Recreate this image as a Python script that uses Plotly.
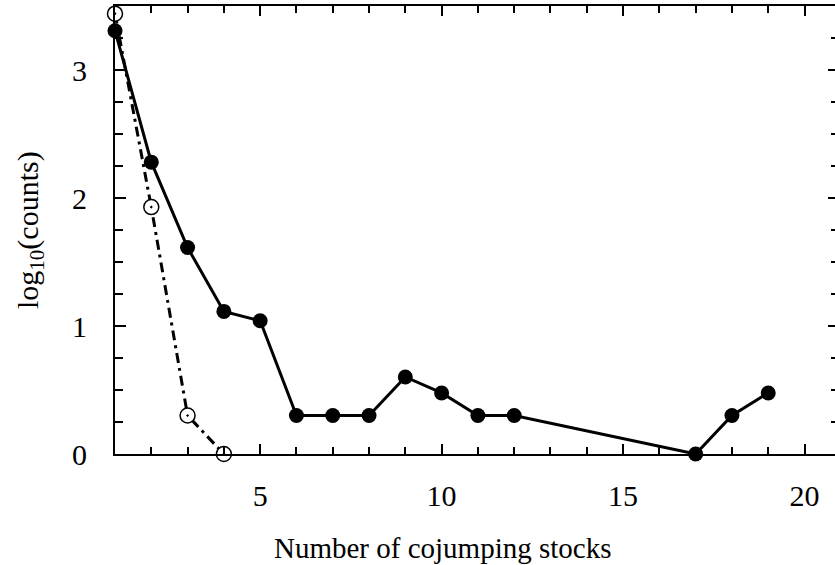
import plotly.graph_objects as go

# Number of stocks jumping together, and log10 of how often each occurred
n_all = [1, 2, 3, 4, 5, 6, 7, 8, 9, 10, 11, 12, 17, 18, 19]
log_counts_all = [3.307, 2.28, 1.613, 1.114, 1.041, 0.301, 0.301, 0.301,
                  0.602, 0.477, 0.301, 0.301, 0.0, 0.301, 0.477]

n_ref = [1, 2, 3, 4]
log_counts_ref = [3.44, 1.929, 0.301, 0.0]

x_ticks = [5, 10, 15, 20]
y_ticks = [0, 1, 2, 3]

FONT = "Liberation Serif"
X_RANGE = [1, 20.84]
Y_RANGE = [0, 3.5]

fig = go.Figure()

fig.add_trace(go.Scatter(
    x=n_ref, y=log_counts_ref, mode="lines+markers",
    line=dict(color="black", width=3, dash="10px,5px,3px,5px"),
    marker=dict(symbol="circle-dot", size=15, color="white",
                line=dict(color="black", width=1.5)),
    cliponaxis=False, showlegend=False,
))

fig.add_trace(go.Scatter(
    x=n_all, y=log_counts_all, mode="lines+markers",
    line=dict(color="black", width=3),
    marker=dict(symbol="circle", size=15, color="black"),
    cliponaxis=False, showlegend=False,
))

# empty trace so the right-hand tick axis is drawn
fig.add_trace(go.Scatter(x=[], y=[], yaxis="y2", showlegend=False,
                         hoverinfo="skip"))

fig.update_layout(
    width=835, height=565,
    margin=dict(l=115, r=0, t=6, b=111),
    paper_bgcolor="white", plot_bgcolor="white",
    font=dict(family=FONT, size=29, color="black"),
    xaxis=dict(
        range=X_RANGE, tickmode="array", tickvals=x_ticks,
        ticktext=[str(v) for v in x_ticks],
        ticks="inside", ticklen=10, tickwidth=1.5, tickcolor="black",
        minor=dict(dtick=1, tick0=0, ticks="inside", ticklen=7,
                   tickwidth=1.5, tickcolor="black", showgrid=False),
        showline=True, linewidth=2, linecolor="black", mirror="ticks",
        showgrid=False, zeroline=False, ticklabelstandoff=14,
        tickfont=dict(family=FONT, size=30),
    ),
    yaxis=dict(
        range=Y_RANGE, tickmode="array", tickvals=y_ticks,
        ticktext=[str(v) for v in y_ticks],
        ticks="inside", ticklen=11, tickwidth=1.5, tickcolor="black",
        minor=dict(dtick=0.25, tick0=0, ticks="inside", ticklen=8,
                   tickwidth=1.5, tickcolor="black", showgrid=False),
        showline=True, linewidth=2, linecolor="black",
        showgrid=False, zeroline=False, ticklabelstandoff=20,
        tickfont=dict(family=FONT, size=30),
    ),
    yaxis2=dict(
        range=Y_RANGE, overlaying="y", side="right", anchor="free",
        position=1, tickmode="array", tickvals=y_ticks,
        ticks="inside", ticklen=7, tickwidth=1.5, tickcolor="black",
        minor=dict(dtick=0.25, tick0=0, ticks="inside", ticklen=4,
                   tickwidth=1.5, tickcolor="black", showgrid=False),
        showline=False, showgrid=False, zeroline=False,
        showticklabels=False,
    ),
    annotations=[
        dict(text="Number of cojumping stocks", x=10.02, y=0,
             xref="x", yref="paper", yanchor="middle", xanchor="center",
             showarrow=False, font=dict(family=FONT, size=29)),
        dict(text="log<sub>10</sub>(counts)", x=0, y=0,
             xref="paper", yref="paper", textangle=-90,
             xanchor="center", yanchor="middle",
             showarrow=False, font=dict(family=FONT, size=30)),
    ],
)

# place the two axis titles in pixel terms relative to the plotting area
plot_w = 835 - 115
plot_h = 565 - 6 - 111
fig.layout.annotations[0].y = (565 - 111 - 548) / plot_h
fig.layout.annotations[1].x = (30 - 115) / plot_w
fig.layout.annotations[1].y = (565 - 111 - 230) / plot_h

fig.write_html("out.html")
